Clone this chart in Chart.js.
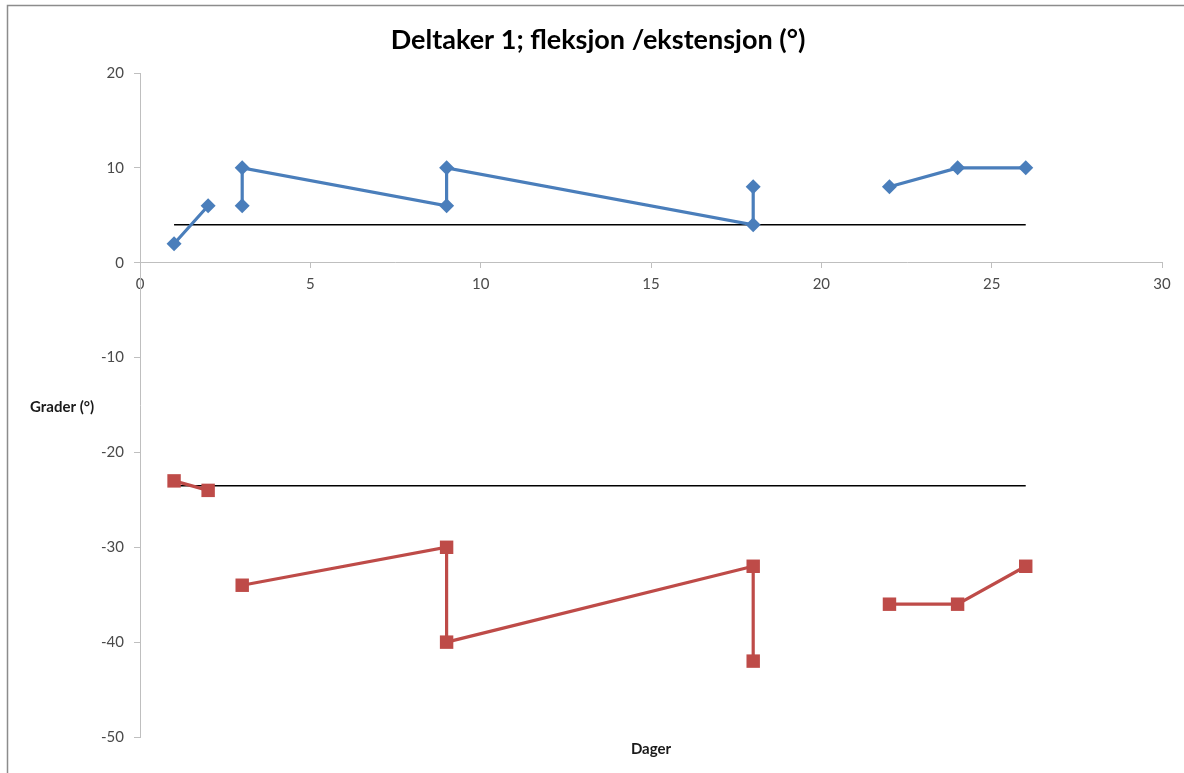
<!DOCTYPE html>
<html>
<head>
<meta charset="utf-8">
<script src="https://cdn.jsdelivr.net/npm/chart.js@4.4.1/dist/chart.umd.min.js"></script>
<style>
  html, body { margin: 0; padding: 0; background: #ffffff; }
  #wrap { position: relative; width: 1184px; height: 773px; }
</style>
</head>
<body>
<div id="wrap"><canvas id="c" width="1184" height="773"></canvas></div>
<script>
// Flexion series (days, degrees); null breaks the line
const fleksjonDager = [1, 2, null, 3, 3, 9, 9, 18, 18, null, 22, 24, 26];
const fleksjonGrader = [2, 6, null, 6, 10, 6, 10, 4, 8, null, 8, 10, 10];

// Extension series (days, degrees)
const ekstensjonDager = [1, 2, null, 3, 9, 9, 18, 18, null, 22, 24, 26];
const ekstensjonGrader = [-23, -24, null, -34, -30, -40, -32, -42, null, -36, -36, -32];

// Reference levels drawn across the observation period
const referanseDager = [1, 26];
const referanseFleksjon = [4, 4];
const referanseEkstensjon = [-23.5, -23.5];

// Axis ticks
const xTicks = [0, 5, 10, 15, 20, 25, 30];
const yTicks = [-50, -40, -30, -20, -10, 0, 10, 20];

const tittel = 'Deltaker 1; fleksjon /ekstensjon (°)';
const xTittel = 'Dager';
const yTittel = 'Grader (°)';

const pairs = (xs, ys) => xs.map((x, i) => ({ x: x, y: ys[i] }));

const axisGrey = '#bfbfbf';
const labelGrey = '#4a4a4a';
const fontFamily = 'Lato, "Open Sans", sans-serif';

// Excel-style frame and free-standing axis titles
const frameAndTitles = {
  id: 'frameAndTitles',
  beforeDraw(chart) {
    const ctx = chart.ctx;
    ctx.save();
    ctx.strokeStyle = '#8c8c8c';
    ctx.lineWidth = 1.5;
    ctx.strokeRect(7.5, 5.5, 1300, 900);
    ctx.restore();
  },
  afterDraw(chart) {
    const ctx = chart.ctx;
    ctx.save();
    ctx.fillStyle = '#1a1a1a';
    ctx.font = 'bold 15px ' + fontFamily;
    ctx.textBaseline = 'middle';
    ctx.textAlign = 'left';
    ctx.fillText(yTittel, 30, 407);
    ctx.textAlign = 'center';
    ctx.fillText(xTittel, 651, 749);
    ctx.restore();
  }
};

new Chart(document.getElementById('c'), {
  type: 'scatter',
  data: {
    datasets: [
      {
        label: 'Fleksjon',
        data: pairs(fleksjonDager, fleksjonGrader),
        showLine: true,
        spanGaps: false,
        borderColor: '#4a7ebb',
        backgroundColor: '#4a7ebb',
        borderWidth: 3.2,
        pointStyle: 'rectRot',
        pointRadius: 7.5,
        pointHoverRadius: 7.5,
        pointBorderWidth: 0,
        tension: 0
      },
      {
        label: 'Ekstensjon',
        data: pairs(ekstensjonDager, ekstensjonGrader),
        showLine: true,
        spanGaps: false,
        borderColor: '#be4b48',
        backgroundColor: '#be4b48',
        borderWidth: 3.2,
        pointStyle: 'rect',
        pointRadius: 9.5,
        pointHoverRadius: 9.5,
        pointBorderWidth: 0,
        tension: 0
      },
      {
        label: 'Referanse fleksjon',
        data: pairs(referanseDager, referanseFleksjon),
        showLine: true,
        borderColor: '#000000',
        borderWidth: 1.5,
        pointRadius: 0,
        pointHoverRadius: 0
      },
      {
        label: 'Referanse ekstensjon',
        data: pairs(referanseDager, referanseEkstensjon),
        showLine: true,
        borderColor: '#000000',
        borderWidth: 1.5,
        pointRadius: 0,
        pointHoverRadius: 0
      }
    ]
  },
  options: {
    responsive: false,
    animation: false,
    layout: { padding: { left: 34, right: 22, top: 0, bottom: 36 } },
    plugins: {
      legend: { display: false },
      tooltip: { enabled: false },
      title: {
        display: true,
        text: tittel,
        color: '#000000',
        font: { family: fontFamily, size: 27, weight: 'bold', lineHeight: 1.2 },
        padding: { top: 23.8, bottom: 16.8 }
      }
    },
    scales: {
      x: {
        type: 'linear',
        position: { y: 0 },
        min: 0,
        max: 30,
        afterBuildTicks(scale) { scale.ticks = xTicks.map(v => ({ value: v })); },
        grid: { drawOnChartArea: false, tickLength: 5, color: axisGrey, lineWidth: 1 },
        border: { color: axisGrey, width: 1 },
        ticks: { color: labelGrey, padding: 7, font: { family: fontFamily, size: 15 } }
      },
      y: {
        type: 'linear',
        position: 'left',
        min: -50,
        max: 20,
        afterBuildTicks(scale) { scale.ticks = yTicks.map(v => ({ value: v })); },
        afterFit(scale) { scale.width = 106; },
        grid: { drawOnChartArea: false, tickLength: 6, color: axisGrey, lineWidth: 1 },
        border: { color: axisGrey, width: 1 },
        ticks: { color: labelGrey, padding: 10, font: { family: fontFamily, size: 15 } }
      }
    }
  },
  plugins: [frameAndTitles]
});
</script>
</body>
</html>
